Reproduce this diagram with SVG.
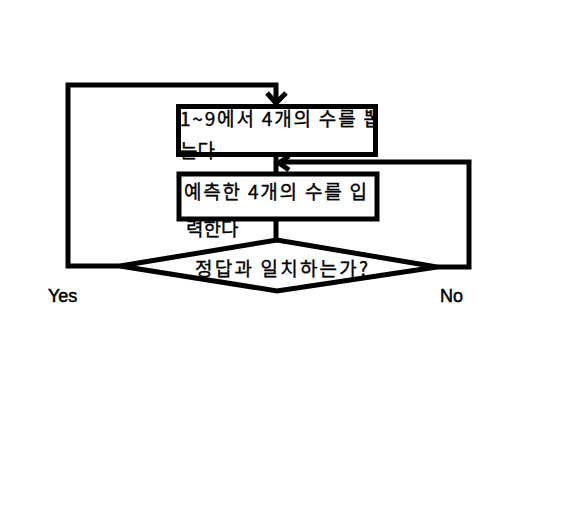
<svg xmlns="http://www.w3.org/2000/svg" width="561" height="522" viewBox="0 0 561 522">
<style>
.shape{fill:none;stroke:#000;stroke-width:5}
.ln{fill:none;stroke:#000;stroke-width:5;stroke-linejoin:miter}
.ko{font-family:"Noto Sans CJK KR","Liberation Sans",sans-serif;font-size:19px;fill:#000;stroke:#000;stroke-width:0.35}
.en{font-family:"Liberation Sans",Arial,sans-serif;font-size:18px;fill:#000;stroke:#000;stroke-width:0.5}
</style>
<defs>
<clipPath id="c1"><rect x="176" y="100" width="199" height="70"/></clipPath>
</defs>
<rect x="0" y="0" width="561" height="522" fill="#fff"/>
<g id="connectors">
<polyline class="ln" points="120,266 68,266 68,85 276,85 276,104"/>
<polyline class="ln" points="267,93 276,103 286,93"/>
<line class="ln" x1="276" y1="156" x2="276" y2="173"/>
<line class="ln" x1="276" y1="219" x2="276" y2="241"/>
<polyline class="ln" points="437,267 469,267 469,162 279,162"/>
<polyline class="ln" points="289,156 279,163 289,170"/>
</g>
<g id="node-pick">
<text class="ko" x="180" y="126" textLength="201" lengthAdjust="spacing" clip-path="url(#c1)">1~9에서 4개의 수를 뽑</text>
<text class="ko" x="180" y="158">는다</text>
<rect class="shape" x="178.5" y="106.5" width="197" height="48"/>
</g>
<g id="node-input">
<rect class="shape" x="179" y="174" width="198" height="45"/>
<text class="ko" x="184" y="199" textLength="183" lengthAdjust="spacing">예측한 4개의 수를 입</text>
<text class="ko" x="186" y="236">력한다</text>
</g>
<g id="node-decision">
<polygon class="shape" points="120,266 277,240 437,267 277,291"/>
<text class="ko" x="195" y="276" textLength="173" lengthAdjust="spacing">정답과 일치하는가?</text>
</g>
<g id="labels">
<text class="en" x="48" y="302">Yes</text>
<text class="en" x="440" y="302">No</text>
</g>
</svg>
